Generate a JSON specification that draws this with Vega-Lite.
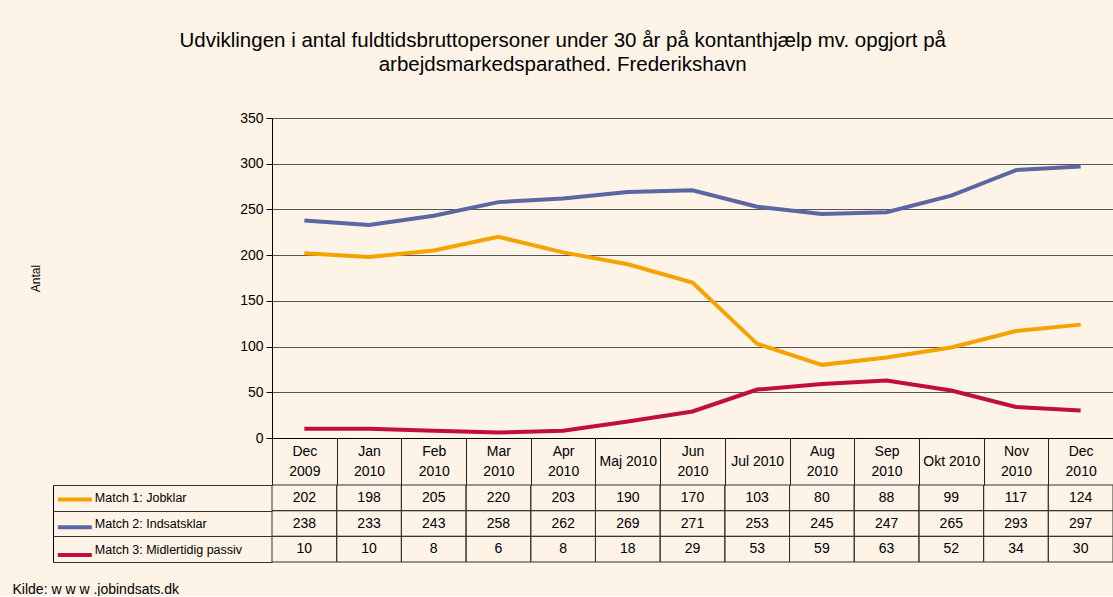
{
  "$schema": "https://vega.github.io/schema/vega-lite/v6.json",
  "background": "#FDF3E6",
  "padding": {"left": 12, "top": 30, "right": 0, "bottom": 0},
  "config": {
    "font": "Liberation Sans",
    "view": {"stroke": null},
    "axis": {"labelColor": "#000", "titleColor": "#000", "domainColor": "#000", "tickColor": "#000"}
  },
  "title": {
    "text": ["Udviklingen i antal fuldtidsbruttopersoner under 30 år på kontanthjælp mv. opgjort på", "arbejdsmarkedsparathed. Frederikshavn"],
    "fontSize": 20.5, "fontWeight": "normal", "lineHeight": 24, "anchor": "middle", "offset": 36, "color": "#000"
  },
  "datasets": {
    "table": [
      {"month": "Dec 2009", "series": "Match 1: Jobklar", "value": 202},
      {"month": "Jan 2010", "series": "Match 1: Jobklar", "value": 198},
      {"month": "Feb 2010", "series": "Match 1: Jobklar", "value": 205},
      {"month": "Mar 2010", "series": "Match 1: Jobklar", "value": 220},
      {"month": "Apr 2010", "series": "Match 1: Jobklar", "value": 203},
      {"month": "Maj 2010", "series": "Match 1: Jobklar", "value": 190},
      {"month": "Jun 2010", "series": "Match 1: Jobklar", "value": 170},
      {"month": "Jul 2010", "series": "Match 1: Jobklar", "value": 103},
      {"month": "Aug 2010", "series": "Match 1: Jobklar", "value": 80},
      {"month": "Sep 2010", "series": "Match 1: Jobklar", "value": 88},
      {"month": "Okt 2010", "series": "Match 1: Jobklar", "value": 99},
      {"month": "Nov 2010", "series": "Match 1: Jobklar", "value": 117},
      {"month": "Dec 2010", "series": "Match 1: Jobklar", "value": 124},
      {"month": "Dec 2009", "series": "Match 2: Indsatsklar", "value": 238},
      {"month": "Jan 2010", "series": "Match 2: Indsatsklar", "value": 233},
      {"month": "Feb 2010", "series": "Match 2: Indsatsklar", "value": 243},
      {"month": "Mar 2010", "series": "Match 2: Indsatsklar", "value": 258},
      {"month": "Apr 2010", "series": "Match 2: Indsatsklar", "value": 262},
      {"month": "Maj 2010", "series": "Match 2: Indsatsklar", "value": 269},
      {"month": "Jun 2010", "series": "Match 2: Indsatsklar", "value": 271},
      {"month": "Jul 2010", "series": "Match 2: Indsatsklar", "value": 253},
      {"month": "Aug 2010", "series": "Match 2: Indsatsklar", "value": 245},
      {"month": "Sep 2010", "series": "Match 2: Indsatsklar", "value": 247},
      {"month": "Okt 2010", "series": "Match 2: Indsatsklar", "value": 265},
      {"month": "Nov 2010", "series": "Match 2: Indsatsklar", "value": 293},
      {"month": "Dec 2010", "series": "Match 2: Indsatsklar", "value": 297},
      {"month": "Dec 2009", "series": "Match 3: Midlertidig passiv", "value": 10},
      {"month": "Jan 2010", "series": "Match 3: Midlertidig passiv", "value": 10},
      {"month": "Feb 2010", "series": "Match 3: Midlertidig passiv", "value": 8},
      {"month": "Mar 2010", "series": "Match 3: Midlertidig passiv", "value": 6},
      {"month": "Apr 2010", "series": "Match 3: Midlertidig passiv", "value": 8},
      {"month": "Maj 2010", "series": "Match 3: Midlertidig passiv", "value": 18},
      {"month": "Jun 2010", "series": "Match 3: Midlertidig passiv", "value": 29},
      {"month": "Jul 2010", "series": "Match 3: Midlertidig passiv", "value": 53},
      {"month": "Aug 2010", "series": "Match 3: Midlertidig passiv", "value": 59},
      {"month": "Sep 2010", "series": "Match 3: Midlertidig passiv", "value": 63},
      {"month": "Okt 2010", "series": "Match 3: Midlertidig passiv", "value": 52},
      {"month": "Nov 2010", "series": "Match 3: Midlertidig passiv", "value": 34},
      {"month": "Dec 2010", "series": "Match 3: Midlertidig passiv", "value": 30}
    ]
  },
  "vconcat": [
    {
      "width": 841,
      "height": 320,
      "data": {"name": "table"},
      "mark": {"type": "line", "strokeWidth": 4},
      "encoding": {
        "x": {
          "field": "month", "type": "ordinal", "bandPosition": 0.5,
          "scale": {"type": "band", "paddingInner": 0, "paddingOuter": 0,
            "domain": ["Dec 2009", "Jan 2010", "Feb 2010", "Mar 2010", "Apr 2010", "Maj 2010", "Jun 2010", "Jul 2010", "Aug 2010", "Sep 2010", "Okt 2010", "Nov 2010", "Dec 2010"]},
          "axis": {
            "title": null, "tickBand": "extent", "tickSize": 47, "tickColor": "#222",
            "labelPadding": {"condition": {"test": "indexof(['Maj 2010','Jul 2010','Okt 2010'], datum.value) >= 0", "value": -23.5}, "value": -34},
            "labelBaseline": "middle", "labelLineHeight": 20,
            "labelFontSize": 14, "labelAngle": 0, "labelOverlap": false, "labelLimit": 0,
            "labelExpr": "datum.value == null ? '' : (indexof(['Maj 2010','Jul 2010','Okt 2010'], datum.value) >= 0 ? datum.value : split(datum.value, ' '))"
          }
        },
        "y": {
          "field": "value", "type": "quantitative",
          "scale": {"domain": [0, 350], "nice": false},
          "axis": {
            "values": [0, 50, 100, 150, 200, 250, 300, 350],
            "grid": true, "gridColor": "#555", "gridWidth": 1,
            "tickSize": 6, "labelPadding": 3, "labelFontSize": 14,
            "title": "Antal", "titleFontSize": 12, "titleFontWeight": "normal",
            "titleAngle": -90, "titleX": -237, "titleY": 160, "titleAlign": "center", "titleBaseline": "middle"
          }
        },
        "color": {
          "field": "series", "type": "nominal",
          "scale": {"domain": ["Match 1: Jobklar", "Match 2: Indsatsklar", "Match 3: Midlertidig passiv"], "range": ["#F5A300", "#5B67A3", "#C20E3E"]},
          "legend": {
            "orient": "none", "legendX": -207.7, "legendY": 371, "title": null, "padding": 0,
            "symbolType": "M-2,0H2", "symbolSize": 289, "symbolStrokeWidth": 4, "symbolFillColor": "transparent",
            "rowPadding": 8.7, "labelExpr": "''"
          }
        }
      }
    },
    {
      "width": 841,
      "height": 77,
      "data": {"name": "table"},
      "encoding": {
        "x": {
          "field": "month", "type": "ordinal",
          "scale": {"type": "band", "paddingInner": 0, "paddingOuter": 0,
            "domain": ["Dec 2009", "Jan 2010", "Feb 2010", "Mar 2010", "Apr 2010", "Maj 2010", "Jun 2010", "Jul 2010", "Aug 2010", "Sep 2010", "Okt 2010", "Nov 2010", "Dec 2010"]},
          "axis": {
            "title": "Kilde: w w w .jobindsats.dk", "labels": false, "ticks": false, "domain": false,
            "titleAnchor": "start", "titleAlign": "left", "titleX": -260, "titleY": 27,
            "titleFontSize": 14, "titleFontWeight": "normal", "titleBaseline": "middle"
          }
        },
        "y": {
          "field": "series", "type": "nominal",
          "scale": {"domain": ["Match 1: Jobklar", "Match 2: Indsatsklar", "Match 3: Midlertidig passiv"], "paddingInner": 0, "paddingOuter": 0},
          "axis": {
            "title": null, "offset": 219, "tickBand": "extent", "tickSize": -219, "tickColor": "#333",
            "labelAlign": "left", "labelPadding": 177.7, "labelFontSize": 12.5, "labelLimit": 0
          }
        }
      },
      "layer": [
        {"mark": {"type": "rect", "fill": "transparent", "stroke": "#333", "strokeWidth": 1}},
        {"mark": {"type": "text", "fontSize": 14, "color": "#000"}, "encoding": {"text": {"field": "value", "type": "quantitative"}}}
      ]
    }
  ],
  "spacing": 47,
  "bounds": "flush",
  "resolve": {"scale": {"color": "independent"}, "legend": {"color": "independent"}}
}
